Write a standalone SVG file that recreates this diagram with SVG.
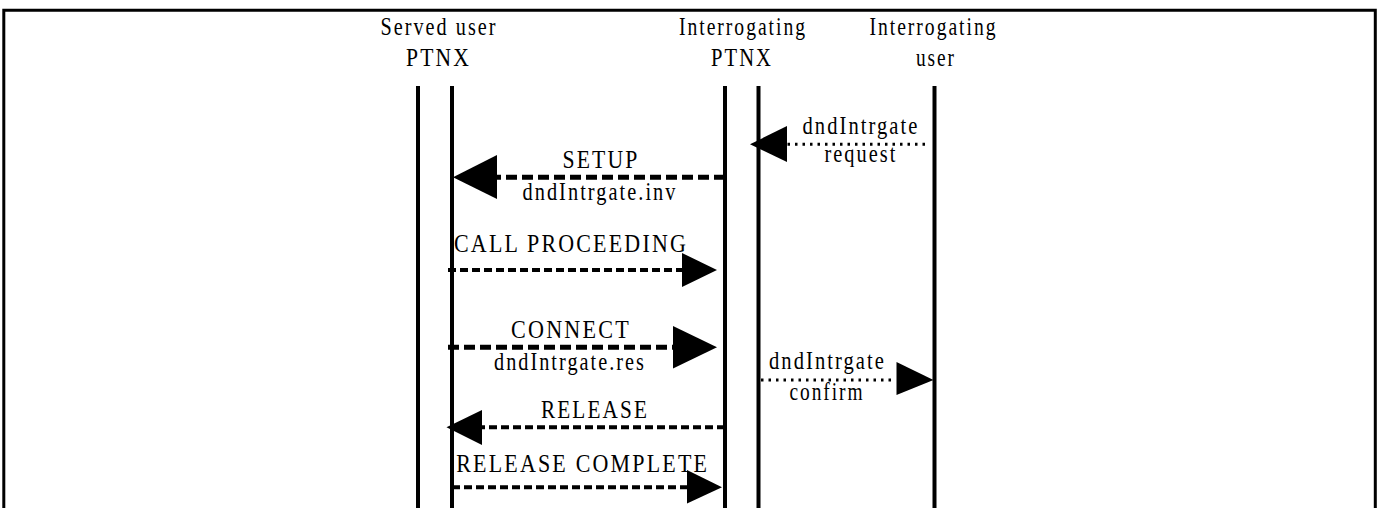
<svg xmlns="http://www.w3.org/2000/svg" width="1385" height="508" viewBox="0 0 1385 508">
  <style>
    text { font-family: "Liberation Serif", "Times New Roman", Times, serif; font-size: 25px; letter-spacing: 2.5px; fill: #000; text-anchor: middle; }
    .frame { fill: none; stroke: #000; stroke-width: 3; }
    .life { stroke: #000; stroke-width: 4; }
    .thick { stroke: #000; stroke-width: 5; stroke-dasharray: 11 5; fill: none; }
    .med { stroke: #000; stroke-width: 4; stroke-dasharray: 8 4; fill: none; }
    .dot { stroke: #000; stroke-width: 3; stroke-dasharray: 2.5 5; fill: none; }
    .head { fill: #000; stroke: none; }
  </style>
  <rect width="1385" height="508" fill="#fff"/>

  <!-- outer frame -->
  <path class="frame" d="M3.8,508 V10.3 H1375.3 V508"/>

  <!-- entities -->
  <g id="served-user-ptnx" font-family="Liberation Serif, serif">
    <text x="439" y="35" textLength="117" lengthAdjust="spacingAndGlyphs">Served user</text>
    <text x="438.5" y="66" textLength="65" lengthAdjust="spacingAndGlyphs">PTNX</text>
    <line class="life" x1="418" y1="86" x2="418" y2="508"/>
    <line class="life" x1="452" y1="86" x2="452" y2="508"/>
  </g>
  <g id="interrogating-ptnx" font-family="Liberation Serif, serif">
    <text x="743" y="35" textLength="128" lengthAdjust="spacingAndGlyphs">Interrogating</text>
    <text x="742" y="66" textLength="62" lengthAdjust="spacingAndGlyphs">PTNX</text>
    <line class="life" x1="725" y1="86" x2="725" y2="508"/>
    <line class="life" x1="758.5" y1="86" x2="758.5" y2="508"/>
  </g>
  <g id="interrogating-user" font-family="Liberation Serif, serif">
    <text x="933.5" y="35" textLength="128" lengthAdjust="spacingAndGlyphs">Interrogating</text>
    <text x="936" y="66" textLength="40" lengthAdjust="spacingAndGlyphs">user</text>
    <line class="life" x1="934.5" y1="86" x2="934.5" y2="508"/>
  </g>

  <!-- messages -->
  <g id="connectors" font-family="Liberation Serif, serif">
    <!-- dndIntrgate request -->
    <line class="dot" x1="925" y1="144.3" x2="786" y2="144.3"/>
    <polygon class="head" points="750,144.3 787,126 787,162"/>
    <text x="861" y="134" textLength="117" lengthAdjust="spacingAndGlyphs">dndIntrgate</text>
    <text x="861" y="162" textLength="73" lengthAdjust="spacingAndGlyphs">request</text>

    <!-- SETUP -->
    <line class="thick" x1="725" y1="177.3" x2="494" y2="177.3"/>
    <polygon class="head" points="453,177.3 497,155 497,199"/>
    <text x="601" y="168" textLength="77" lengthAdjust="spacingAndGlyphs">SETUP</text>
    <text x="600" y="200" textLength="155" lengthAdjust="spacingAndGlyphs">dndIntrgate.inv</text>

    <!-- CALL PROCEEDING -->
    <line class="med" x1="448" y1="270" x2="684" y2="270"/>
    <polygon class="head" points="717,270 682,253 682,287"/>
    <text x="571" y="251.5" textLength="234" lengthAdjust="spacingAndGlyphs">CALL PROCEEDING</text>

    <!-- CONNECT -->
    <line class="thick" x1="448" y1="347.3" x2="676" y2="347.3"/>
    <polygon class="head" points="717,347.3 673,326 673,368.5"/>
    <text x="571" y="338.3" textLength="120" lengthAdjust="spacingAndGlyphs">CONNECT</text>
    <text x="570" y="370" textLength="152" lengthAdjust="spacingAndGlyphs">dndIntrgate.res</text>

    <!-- dndIntrgate confirm -->
    <line class="dot" x1="761" y1="380" x2="896" y2="380"/>
    <polygon class="head" points="933.5,380 896.5,362 896.5,395"/>
    <text x="827.5" y="369.3" textLength="117" lengthAdjust="spacingAndGlyphs">dndIntrgate</text>
    <text x="827" y="400" textLength="75" lengthAdjust="spacingAndGlyphs">confirm</text>

    <!-- RELEASE -->
    <line class="med" x1="725" y1="427.3" x2="480" y2="427.3"/>
    <polygon class="head" points="446.5,427.3 482,410 482,445"/>
    <text x="595" y="418.3" textLength="108" lengthAdjust="spacingAndGlyphs">RELEASE</text>

    <!-- RELEASE COMPLETE -->
    <line class="med" x1="452" y1="487.3" x2="689" y2="487.3"/>
    <polygon class="head" points="722,487.3 687,470 687,503.5"/>
    <text x="582.7" y="471.7" textLength="253" lengthAdjust="spacingAndGlyphs">RELEASE COMPLETE</text>
  </g>
</svg>
